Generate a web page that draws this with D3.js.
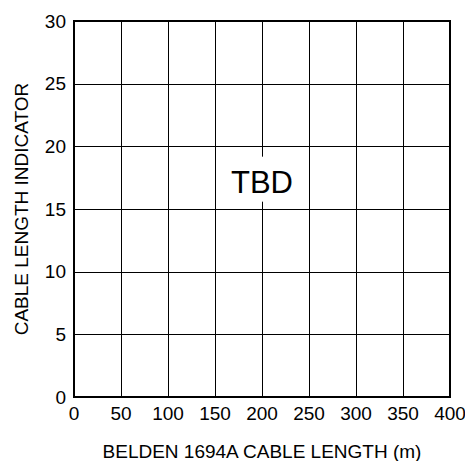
<!DOCTYPE html>
<html>
<head>
<meta charset="utf-8">
<script src="https://cdn.jsdelivr.net/npm/d3@7"></script>
<style>
  body { margin: 0; background: #fff; }
  text { font-family: "Liberation Sans", Arial, sans-serif; fill: #000; }
</style>
</head>
<body>
<div id="vis"></div>
<script>
const width = 465;
const height = 461;
const margin = { top: 21, right: 15, bottom: 64, left: 74 };

const xTicks = [0, 50, 100, 150, 200, 250, 300, 350, 400];
const yTicks = [0, 5, 10, 15, 20, 25, 30];
const xLabel = "BELDEN 1694A CABLE LENGTH (m)";
const yLabel = "CABLE LENGTH INDICATOR";
const note = "TBD";

const w = width - margin.left - margin.right;
const h = height - margin.top - margin.bottom;

const xScale = d3.scaleLinear().domain([0, 400]).range([0, w]);
const yScale = d3.scaleLinear().domain([0, 30]).range([h, 0]);

const svg = d3.select("#vis")
  .append("svg")
  .attr("width", width)
  .attr("height", height)
  .append("g")
  .attr("transform", "translate(" + margin.left + "," + margin.top + ")");

// grid
svg.append("g")
  .selectAll("line")
  .data(xTicks)
  .enter()
  .append("line")
  .attr("x1", d => Math.round(xScale(d)) + 0.5)
  .attr("x2", d => Math.round(xScale(d)) + 0.5)
  .attr("y1", 0)
  .attr("y2", h)
  .attr("stroke", "#000")
  .attr("stroke-width", 1);

svg.append("g")
  .selectAll("line")
  .data(yTicks)
  .enter()
  .append("line")
  .attr("y1", d => Math.round(yScale(d)) + 0.5)
  .attr("y2", d => Math.round(yScale(d)) + 0.5)
  .attr("x1", 0)
  .attr("x2", w)
  .attr("stroke", "#000")
  .attr("stroke-width", 1);

// frame
svg.append("rect")
  .attr("x", 0)
  .attr("y", 0)
  .attr("width", w)
  .attr("height", h)
  .attr("fill", "none")
  .attr("stroke", "#000")
  .attr("stroke-width", 2);

// tick labels
svg.append("g")
  .selectAll("text")
  .data(xTicks)
  .enter()
  .append("text")
  .attr("x", d => xScale(d))
  .attr("y", h + 23)
  .attr("text-anchor", "middle")
  .style("font-size", "19px")
  .text(d => d);

svg.append("g")
  .selectAll("text")
  .data(yTicks)
  .enter()
  .append("text")
  .attr("x", -8)
  .attr("y", d => yScale(d))
  .attr("dy", "0.35em")
  .attr("text-anchor", "end")
  .style("font-size", "19px")
  .text(d => d);

// axis titles
svg.append("text")
  .attr("x", w / 2)
  .attr("y", h + 61)
  .attr("text-anchor", "middle")
  .style("font-size", "19px")
  .text(xLabel);

svg.append("text")
  .attr("transform", "translate(" + (-46) + "," + (h / 2) + ") rotate(-90)")
  .attr("text-anchor", "middle")
  .style("font-size", "19px")
  .text(yLabel);

// TBD note with white backing
const noteX = xScale(200);
const noteY = yScale(17.5);
svg.append("rect")
  .attr("x", noteX - 34)
  .attr("y", noteY - 21)
  .attr("width", 68)
  .attr("height", 45)
  .attr("fill", "#fff");

svg.append("text")
  .attr("x", noteX)
  .attr("y", noteY + 15)
  .attr("text-anchor", "middle")
  .style("font-size", "31px")
  .text(note);
</script>
</body>
</html>
